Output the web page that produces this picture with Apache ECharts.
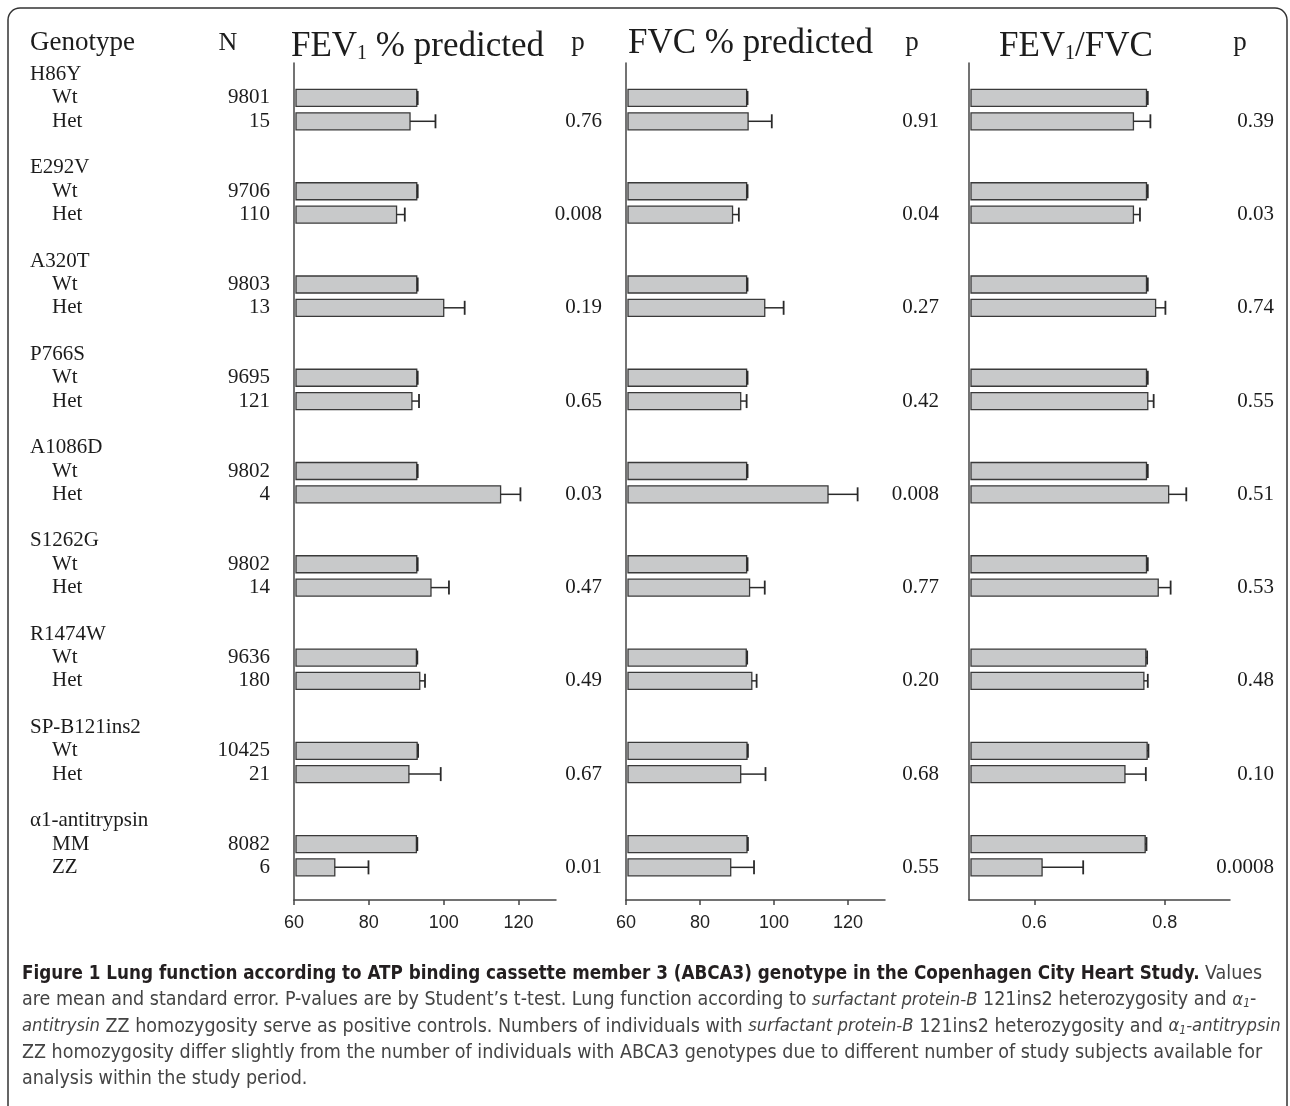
<!DOCTYPE html>
<html>
<head>
<meta charset="utf-8">
<script src="https://cdn.jsdelivr.net/npm/echarts@6/dist/echarts.min.js"></script>
<style>
html, body { margin: 0; padding: 0; background: #fff; }
#chart { width: 1290px; height: 1106px; }
</style>
</head>
<body>
<div id="chart"></div>
<script>
// genotype groups and rows
const genes = ['H86Y', 'E292V', 'A320T', 'P766S', 'A1086D', 'S1262G', 'R1474W', 'SP-B121ins2', '\u03b11-antitrypsin'];
const rowNames = [['Wt', 'Het'], ['Wt', 'Het'], ['Wt', 'Het'], ['Wt', 'Het'], ['Wt', 'Het'], ['Wt', 'Het'], ['Wt', 'Het'], ['Wt', 'Het'], ['MM', 'ZZ']];
const nWt = [9801, 9706, 9803, 9695, 9802, 9802, 9636, 10425, 8082];
const nHet = [15, 110, 13, 121, 4, 14, 180, 21, 6];

// FEV1 % predicted
const fev1Wt = [92.8, 92.8, 92.8, 92.8, 92.8, 92.8, 92.7, 92.9, 92.7];
const fev1Het = [91.0, 87.4, 100.0, 91.5, 115.2, 96.6, 93.6, 90.7, 70.9];
const fev1HetSe = [6.8, 2.2, 5.6, 1.9, 5.3, 4.8, 1.4, 8.5, 9.0];
const fev1P = ['0.76', '0.008', '0.19', '0.65', '0.03', '0.47', '0.49', '0.67', '0.01'];

// FVC % predicted
const fvcWt = [92.6, 92.6, 92.6, 92.6, 92.6, 92.6, 92.5, 92.7, 92.7];
const fvcHet = [93.0, 88.8, 97.5, 91.0, 114.6, 93.4, 94.0, 91.0, 88.3];
const fvcHetSe = [6.4, 1.7, 5.1, 1.6, 8.0, 4.1, 1.3, 6.7, 6.3];
const fvcP = ['0.91', '0.04', '0.27', '0.42', '0.008', '0.77', '0.20', '0.68', '0.55'];

// FEV1/FVC
const ratioWt = [0.772, 0.772, 0.772, 0.772, 0.772, 0.772, 0.771, 0.773, 0.770];
const ratioHet = [0.752, 0.752, 0.786, 0.774, 0.806, 0.790, 0.768, 0.739, 0.612];
const ratioHetSe = [0.026, 0.010, 0.015, 0.009, 0.027, 0.019, 0.006, 0.032, 0.063];
const ratioP = ['0.39', '0.03', '0.74', '0.55', '0.51', '0.53', '0.48', '0.10', '0.0008'];

const pctTicks = [60, 80, 100, 120];
const ratioTicks = [0.6, 0.8];
const wtSe = [0.25, 0.002];

const SERIF = '"Liberation Serif", "DejaVu Serif", serif';
const SANS = '"Liberation Sans", Arial, sans-serif';
const NARROW = '"Liberation Sans Narrow", "DejaVu Sans Condensed", sans-serif';
const INK = '#1c1c1c';

const chart = echarts.init(document.getElementById('chart'), null, { renderer: 'canvas' });

// each gene takes 4 row slots: header, first genotype, second genotype, gap
function barRows(wt, het, hetSe, wse) {
    const rows = [];
    genes.forEach((g, i) => {
        rows.push([wt[i], i * 4 + 1, wse]);
        rows.push([het[i], i * 4 + 2, hetSe[i]]);
    });
    return rows;
}

function barRenderer(axisMin) {
    return function (params, api) {
        const v = api.value(0), idx = api.value(1), se = api.value(2);
        const p0 = api.coord([axisMin, idx]);
        const p1 = api.coord([v, idx]);
        const p2 = api.coord([v + se, idx]);
        const h = 17;
        return {
            type: 'group',
            children: [
                { type: 'rect', shape: { x: p0[0] + 2, y: p1[1] - h / 2, width: p1[0] - p0[0] - 2, height: h },
                  style: { fill: '#c8c9ca', stroke: '#3a3a3a', lineWidth: 1.3 } },
                { type: 'line', shape: { x1: p1[0], y1: p1[1], x2: p2[0], y2: p1[1] },
                  style: { stroke: '#2a2a2a', lineWidth: 1.5 } },
                { type: 'line', shape: { x1: p2[0], y1: p1[1] - 7, x2: p2[0], y2: p1[1] + 7 },
                  style: { stroke: '#2a2a2a', lineWidth: 1.8 } }
            ]
        };
    };
}

// row labels (genotype + N) drawn on first grid scale
const labelRows = [];
genes.forEach((g, i) => {
    labelRows.push({ slot: i * 4, name: g, n: '', indent: false });
    labelRows.push({ slot: i * 4 + 1, name: rowNames[i][0], n: String(nWt[i]), indent: true });
    labelRows.push({ slot: i * 4 + 2, name: rowNames[i][1], n: String(nHet[i]), indent: true });
});

function pRenderer(list, xRight) {
    return function (params, api) {
        const y = api.coord([api.value(0), api.value(1)])[1];
        return { type: 'text', style: { x: xRight, y: y, text: list[params.dataIndex], align: 'right',
            verticalAlign: 'middle', font: '21px ' + SERIF, fill: INK } };
    };
}

const grids = [
    { left: 294, width: 262, top: 63, height: 837 },
    { left: 626, width: 259, top: 63, height: 837 },
    { left: 969, width: 261, top: 63, height: 837 }
];

function xAxisFor(i, min, max, ticks) {
    return {
        type: 'value', gridIndex: i, min: min, max: max, position: 'bottom',
        axisLine: { show: true, onZero: false, lineStyle: { color: '#444', width: 1.5 } },
        axisTick: { show: true, length: 5, lineStyle: { color: '#444', width: 1.5 }, customValues: ticks },
        axisLabel: { customValues: ticks, margin: 14, fontFamily: SANS, fontSize: 18, color: '#222' },
        splitLine: { show: false }
    };
}

function yAxisFor(i) {
    return {
        type: 'value', gridIndex: i, inverse: true, min: -0.5, max: 35.4, position: 'left',
        axisLine: { show: true, onZero: false, lineStyle: { color: '#444', width: 1.5 } },
        axisTick: { show: false }, axisLabel: { show: false }, splitLine: { show: false }
    };
}

const pSlots = genes.map((g, i) => i * 4 + 2);

const option = {
    animation: false,
    backgroundColor: '#fff',
    grid: grids,
    xAxis: [xAxisFor(0, 60, 130, pctTicks), xAxisFor(1, 60, 130, pctTicks), xAxisFor(2, 0.5, 0.9, ratioTicks)],
    yAxis: [yAxisFor(0), yAxisFor(1), yAxisFor(2)],
    series: [
        { type: 'custom', name: 'FEV1', xAxisIndex: 0, yAxisIndex: 0, renderItem: barRenderer(60),
          data: barRows(fev1Wt, fev1Het, fev1HetSe, wtSe[0]) },
        { type: 'custom', name: 'FVC', xAxisIndex: 1, yAxisIndex: 1, renderItem: barRenderer(60),
          data: barRows(fvcWt, fvcHet, fvcHetSe, wtSe[0]) },
        { type: 'custom', name: 'FEV1/FVC', xAxisIndex: 2, yAxisIndex: 2, renderItem: barRenderer(0.5),
          data: barRows(ratioWt, ratioHet, ratioHetSe, wtSe[1]) },
        { type: 'custom', name: 'rows', xAxisIndex: 0, yAxisIndex: 0,
          data: labelRows.map(r => [60, r.slot]),
          renderItem: function (params, api) {
              const r = labelRows[params.dataIndex];
              const y = api.coord([60, r.slot])[1];
              return { type: 'group', children: [
                  { type: 'text', style: { x: r.indent ? 52 : 30, y: y, text: r.name, verticalAlign: 'middle',
                      font: '21px ' + SERIF, fill: INK } },
                  { type: 'text', style: { x: 270, y: y, text: r.n, align: 'right', verticalAlign: 'middle',
                      font: '21px ' + SERIF, fill: INK } }
              ] };
          } },
        { type: 'custom', name: 'p1', xAxisIndex: 0, yAxisIndex: 0, data: pSlots.map(s => [60, s]), renderItem: pRenderer(fev1P, 602) },
        { type: 'custom', name: 'p2', xAxisIndex: 1, yAxisIndex: 1, data: pSlots.map(s => [60, s]), renderItem: pRenderer(fvcP, 939) },
        { type: 'custom', name: 'p3', xAxisIndex: 2, yAxisIndex: 2, data: pSlots.map(s => [0.5, s]), renderItem: pRenderer(ratioP, 1274) }
    ],
    graphic: [
        { type: 'rect', shape: { x: 8, y: 8, width: 1279, height: 1140, r: 12 }, style: { fill: 'none', stroke: '#333', lineWidth: 1.5 }, z: -1 },
        { type: 'text', x: 30, y: 43, style: { text: 'Genotype', font: '27px ' + SERIF, fill: INK, verticalAlign: 'middle' } },
        { type: 'text', x: 228, y: 43, style: { text: 'N', font: '26px ' + SERIF, fill: INK, align: 'center', verticalAlign: 'middle' } },
        { type: 'text', x: 291, y: 44, style: { text: '{t|FEV}{s|1}{t| % predicted}', verticalAlign: 'middle', fill: INK,
            rich: { t: { font: '35px ' + SERIF, lineHeight: 40, verticalAlign: 'bottom' }, s: { font: '20px ' + SERIF, lineHeight: 20, verticalAlign: 'bottom' } } } },
        { type: 'text', x: 578, y: 43, style: { text: 'p', font: '27px ' + SERIF, fill: INK, align: 'center', verticalAlign: 'middle' } },
        { type: 'text', x: 628, y: 44, style: { text: 'FVC % predicted', font: '35px ' + SERIF, fill: INK, verticalAlign: 'middle' } },
        { type: 'text', x: 912, y: 43, style: { text: 'p', font: '27px ' + SERIF, fill: INK, align: 'center', verticalAlign: 'middle' } },
        { type: 'text', x: 999, y: 44, style: { text: '{t|FEV}{s|1}{t|/FVC}', verticalAlign: 'middle', fill: INK,
            rich: { t: { font: '35px ' + SERIF, lineHeight: 40, verticalAlign: 'bottom' }, s: { font: '20px ' + SERIF, lineHeight: 20, verticalAlign: 'bottom' } } } },
        { type: 'text', x: 1240, y: 43, style: { text: 'p', font: '27px ' + SERIF, fill: INK, align: 'center', verticalAlign: 'middle' } }
    ]
};

// caption lines
const capRich = {
    b: { font: 'bold 18.7px ' + NARROW, fill: '#231f20' },
    n: { font: '19.5px ' + NARROW, fill: '#444' },
    i: { font: 'italic 18.3px ' + NARROW, fill: '#444' },
    s: { font: 'italic 12px ' + NARROW, fill: '#444', verticalAlign: 'bottom', lineHeight: 15 }
};
const captionLines = [
    '{b|Figure 1 Lung function according to ATP binding cassette member 3 (ABCA3) genotype in the Copenhagen City Heart Study.}{n| Values}',
    '{n|are mean and standard error. P-values are by Student\u2019s t-test. Lung function according to }{i|surfactant protein-B}{n| 121ins2 heterozygosity and }{i|\u03b1}{s|1}{n|-}',
    '{i|antitrysin}{n| ZZ homozygosity serve as positive controls. Numbers of individuals with }{i|surfactant protein-B}{n| 121ins2 heterozygosity and }{i|\u03b1}{s|1}{i|-antitrypsin}',
    '{n|ZZ homozygosity differ slightly from the number of individuals with ABCA3 genotypes due to different number of study subjects available for}',
    '{n|analysis within the study period.}'
];
captionLines.forEach((t, k) => {
    option.graphic.push({ type: 'text', x: 22, y: 974 + k * 26.3,
        style: { text: t, rich: capRich, verticalAlign: 'middle' } });
});

chart.setOption(option);
</script>
</body>
</html>
